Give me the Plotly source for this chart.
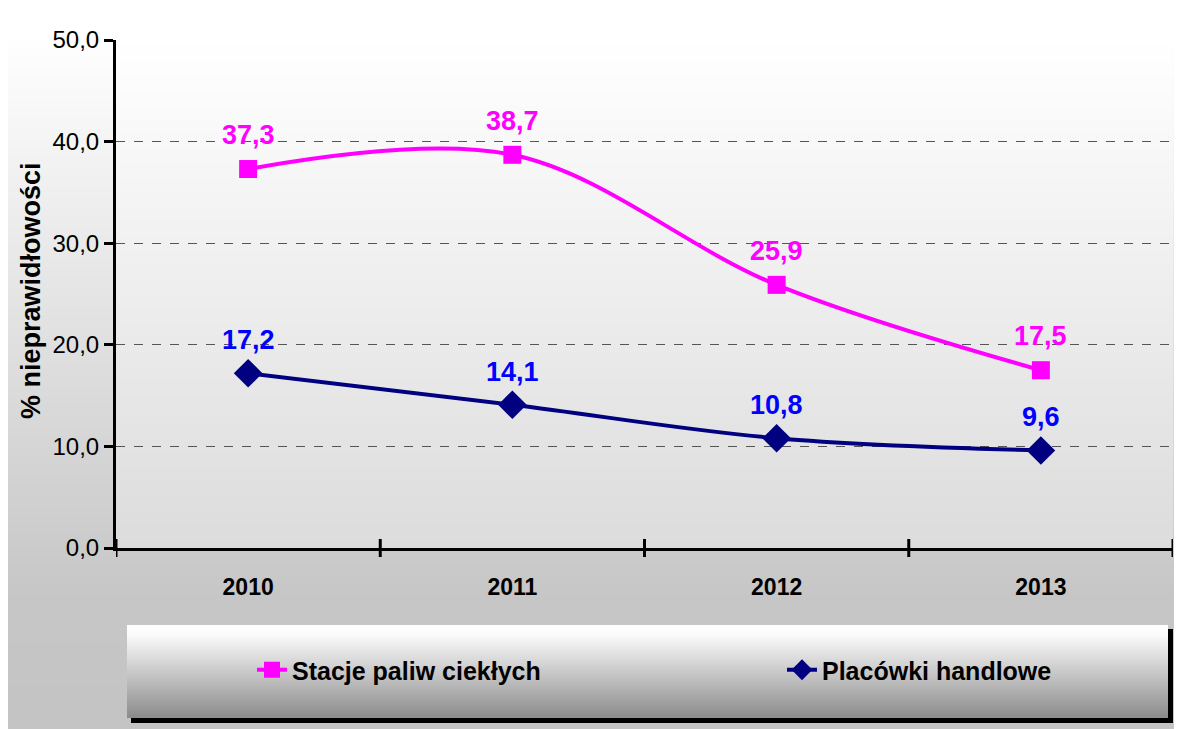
import plotly.graph_objects as go

# ---- data ----
years = ["2010", "2011", "2012", "2013"]
stacje = [37.3, 38.7, 25.9, 17.5]
placowki = [17.2, 14.1, 10.8, 9.6]
y_ticks = [0, 10, 20, 30, 40, 50]
name_stacje = "Stacje paliw ciekłych"
name_placowki = "Placówki handlowe"
y_title = "% nieprawidłowości"

# ---- layout geometry (page pixels; page body has an 8px margin) ----
OFF = 8
FW, FH = 1182 - OFF, 729 - OFF
PL, PR, PT, PB = 116, 1173, 40, 548          # plot area in page pixels
L, R, T, B = PL - OFF, FW - (PR - OFF), PT - OFF, FH - (PB - OFF)
PW = PR - PL
PH = PB - PT
FONT = "Liberation Sans, Arial, sans-serif"


def px(xp):
    return (xp - PL) / PW


def py(yp):
    return (PB - yp) / PH


def grey(v):
    v = int(round(max(0, min(255, v))))
    return f"rgb({v},{v},{v})"


shapes = []


def band_rect(x0, x1, y0, y1, c0, c1, step=2):
    n = max(1, int(round((y1 - y0) / step)))
    for i in range(n):
        a = y0 + i * step
        b = min(y1, a + step + 1)
        t = (i + 0.5) / n
        c = c0 + (c1 - c0) * t
        shapes.append(dict(type="rect", xref="paper", yref="paper",
                           x0=px(x0), x1=px(x1), y0=py(b), y1=py(a),
                           fillcolor=grey(c), line=dict(width=0), layer="below"))


# outer chart area gradient
band_rect(8, 1175, 33, 600, 255, 198, 3)
band_rect(8, 1175, 600, 729, 198, 196, 43)
# plot area gradient
band_rect(PL, PR, PT, PB, 255, 220, 3)
# legend shadow
shapes.append(dict(type="rect", xref="paper", yref="paper",
                   x0=px(131), x1=px(1173), y0=py(723), y1=py(629),
                   fillcolor="black", line=dict(width=0), layer="below"))
# legend box gradient
band_rect(127, 1168, 625, 637, 255, 250, 2)
band_rect(127, 1168, 637, 718, 248, 140, 2)

# crossing category boundary ticks on x axis
for i in range(len(years) + 1):
    xb = i - 0.5
    shapes.append(dict(type="line", xref="x", yref="paper",
                       x0=xb, x1=xb, y0=-9 / PH, y1=9 / PH,
                       line=dict(color="black", width=3), layer="above"))

xs = list(range(len(years)))

fig = go.Figure()
fig.add_trace(go.Scatter(
    x=xs, y=stacje, name=name_stacje, mode="lines+markers", legend="legend",
    line=dict(color="#FF00FF", width=4, shape="spline", smoothing=1.0),
    marker=dict(symbol="square", size=18, color="#FF00FF"),
))
fig.add_trace(go.Scatter(
    x=xs, y=placowki, name=name_placowki, mode="lines+markers", legend="legend2",
    line=dict(color="#000080", width=4, shape="spline", smoothing=1.0),
    marker=dict(symbol="diamond", size=22, color="#000080"),
))

annotations = []
for xv, yv in zip(xs, stacje):
    annotations.append(dict(x=xv, y=yv, xref="x", yref="y", showarrow=False,
                            text=f"{yv:.1f}".replace(".", ","), yshift=34,
                            font=dict(family=FONT, size=27, color="#FF00FF", weight="bold")))
for xv, yv in zip(xs, placowki):
    annotations.append(dict(x=xv, y=yv, xref="x", yref="y", showarrow=False,
                            text=f"{yv:.1f}".replace(".", ","), yshift=33,
                            font=dict(family=FONT, size=27, color="#0000FF", weight="bold")))
# y-axis title
annotations.append(dict(x=px(31), y=py(291), xref="paper", yref="paper",
                        xanchor="center", yanchor="middle",
                        showarrow=False, textangle=-90, text=y_title,
                        font=dict(family=FONT, size=27, color="black", weight="bold")))

leg_common = dict(orientation="h", xanchor="left", yanchor="middle",
                  bgcolor="rgba(0,0,0,0)", borderwidth=0, itemclick=False,
                  font=dict(family=FONT, size=25, color="black", weight="bold"))

fig.update_layout(
    width=FW, height=FH,
    margin=dict(l=L, r=R, t=T, b=B, pad=0),
    paper_bgcolor="white",
    plot_bgcolor="rgba(0,0,0,0)",
    separators=", ",
    font=dict(family=FONT, color="black"),
    shapes=shapes,
    annotations=annotations,
    showlegend=True,
    legend=dict(x=px(252), y=py(670), **leg_common),
    legend2=dict(x=px(782), y=py(670), **leg_common),
    xaxis=dict(range=[-0.5, len(years) - 0.5], tickmode="array", tickvals=xs, ticktext=years,
               ticks="outside", ticklen=16, tickcolor="rgba(0,0,0,0)",
               showline=True, linecolor="black", linewidth=3,
               showgrid=False, zeroline=False, fixedrange=True,
               tickfont=dict(family=FONT, size=23, color="black", weight="bold")),
    yaxis=dict(range=[0, 50], tickmode="array", tickvals=y_ticks,
               tickformat=".1f", ticks="outside", ticklen=9, tickwidth=3, tickcolor="black",
               showline=True, linecolor="black", linewidth=3,
               showgrid=True, gridcolor="#555555", gridwidth=1, griddash="dash",
               zeroline=False, fixedrange=True,
               tickfont=dict(family=FONT, size=24, color="black")),
)

fig.write_html("out.html")
